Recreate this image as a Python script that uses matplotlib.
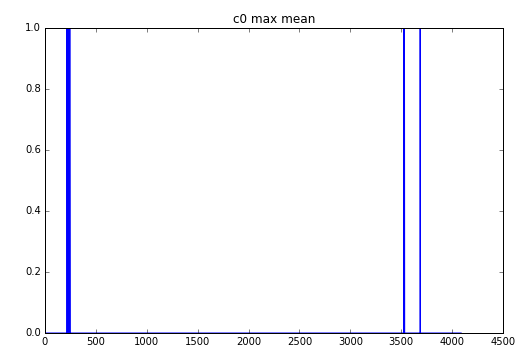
import numpy as np
import matplotlib
matplotlib.use("Agg")
from matplotlib import pyplot as plt

# signal: 0 everywhere, 1 at a few sample indices
n_samples = 4090
spike_idx = [216, 222, 228, 234, 240, 244, 3526, 3532, 3686]

y = np.zeros(n_samples)
y[spike_idx] = 1.0
x = np.arange(n_samples)

plt.style.use('classic')
plt.rcParams['font.size'] = 10

fig = plt.figure(figsize=(521 / 72, 353 / 72), dpi=72, facecolor='white')
ax = fig.add_axes([45 / 521, 1 - 333 / 353, 458 / 521, 305 / 353])
ax.plot(x, y, color='b', linewidth=1)
ax.set_xlim(0, 4500)
ax.set_ylim(0, 1)
ax.set_xticks(range(0, 4501, 500))
ax.set_yticks([0.0, 0.2, 0.4, 0.6, 0.8, 1.0])
ax.set_title('c0 max mean', fontsize=12)

fig.savefig('out.png', dpi=72, facecolor='white')
